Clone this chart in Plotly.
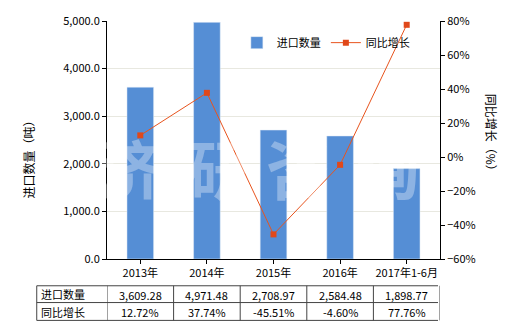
import plotly.graph_objects as go

categories = ["2013年", "2014年", "2015年", "2016年", "2017年1-6月"]
import_qty = [3609.28, 4971.48, 2708.97, 2584.48, 1898.77]
yoy_growth = [12.72, 37.74, -45.51, -4.60, 77.76]
qty_labels = ["3,609.28", "4,971.48", "2,708.97", "2,584.48", "1,898.77"]
growth_labels = ["12.72%", "37.74%", "-45.51%", "-4.60%", "77.76%"]
row_names = ["进口数量", "同比增长"]
watermark = ["济", "研", "咨", "询"]

FONT = "Noto Sans CJK SC"
fig = go.Figure()
fig.add_trace(go.Bar(x=list(range(5)), y=import_qty, name="进口数量",
                     marker=dict(color="#558ED5"), width=0.4, yaxis="y"))
fig.add_trace(go.Scatter(x=list(range(5)), y=yoy_growth, name="同比增长",
                         mode="lines+markers", yaxis="y2",
                         line=dict(color="#E8541E", width=1),
                         marker=dict(symbol="square", size=6, color="#E0481A")))

# watermark
for k, ch in enumerate(watermark):
    fig.add_annotation(text="<b>" + ch + "</b>", xref="paper", yref="paper",
                       x=[0.07, 0.34, 0.575, 0.845][k], y=0.39, xanchor="center", yanchor="middle",
                       showarrow=False,
                       font=dict(size=64, color="rgba(255,255,255,0.33)", family=FONT, weight="bold"))

shapes = []
line_c = "#444444"
ys = [-0.1125, -0.183, -0.258]
for yv in ys:
    shapes.append(dict(type="line", xref="paper", yref="paper", x0=-0.211, x1=0.994,
                       y0=yv, y1=yv, line=dict(color=line_c, width=1)))
shapes.append(dict(type="line", xref="paper", yref="paper", x0=-0.211, x1=-0.211,
                   y0=ys[0], y1=ys[2], line=dict(color=line_c, width=1)))
for i in range(6):
    shapes.append(dict(type="line", xref="x", yref="paper", x0=i - 0.5, x1=i - 0.5,
                       y0=ys[0], y1=ys[2], line=dict(color=line_c, width=1)))

annotations = []
row_y = [-0.148, -0.221]
for r, name in enumerate(row_names):
    annotations.append(dict(text=name, xref="paper", yref="paper", x=-0.205,
                            y=row_y[r], xanchor="left", yanchor="middle", showarrow=False,
                            font=dict(size=11, color="#000", family=FONT)))
for i in range(5):
    annotations.append(dict(text=qty_labels[i], xref="x", yref="paper", x=i, y=row_y[0] - 0.003,
                            xanchor="center", yanchor="middle",
                            showarrow=False, font=dict(size=11, color="#000", family=FONT)))
    annotations.append(dict(text=growth_labels[i], xref="x", yref="paper", x=i, y=row_y[1] - 0.003,
                            xanchor="center", yanchor="middle",
                            showarrow=False, font=dict(size=11, color="#000", family=FONT)))
annotations.append(dict(text="进口数量（吨）", xref="paper", yref="paper", x=-0.235, y=0.43,
                        xanchor="center", yanchor="middle",
                        textangle=-90, showarrow=False, font=dict(size=12, color="#000", family=FONT)))
annotations.append(dict(text="同比增长（%）", xref="paper", yref="paper", x=1.155, y=0.52,
                        xanchor="center", yanchor="middle",
                        textangle=90, showarrow=False, font=dict(size=12, color="#000", family=FONT)))
for a in annotations:
    fig.add_annotation(**a)

fig.update_layout(
    width=520, height=330, margin=dict(l=107, r=80, t=19, b=71),
    plot_bgcolor="white", paper_bgcolor="white",
    font=dict(family=FONT, size=11, color="#000"),
    shapes=shapes, showlegend=True,
    legend=dict(orientation="h", x=0.39, y=0.97, xanchor="left", yanchor="top",
                bgcolor="rgba(0,0,0,0)", font=dict(size=11, family=FONT)),
    xaxis=dict(range=[-0.5, 4.5], tickmode="array", tickvals=list(range(5)), ticktext=categories,
               showline=True, linecolor="#000", ticks="outside", ticklen=4, tickcolor="#000",
               showgrid=False, zeroline=False),
    yaxis=dict(range=[0, 5000], dtick=1000, tickformat=",.1f", showline=True, linecolor="#000",
               ticks="outside", ticklen=4, tickcolor="#000", gridcolor="#E8E8E0", zeroline=False),
    yaxis2=dict(range=[-60, 80], dtick=20, ticksuffix="%", overlaying="y", side="right",
                showline=True, linecolor="#000", ticks="outside", ticklen=4, tickcolor="#000",
                showgrid=False, zeroline=False),
    bargap=0.6,
)
fig.write_html("out.html")
